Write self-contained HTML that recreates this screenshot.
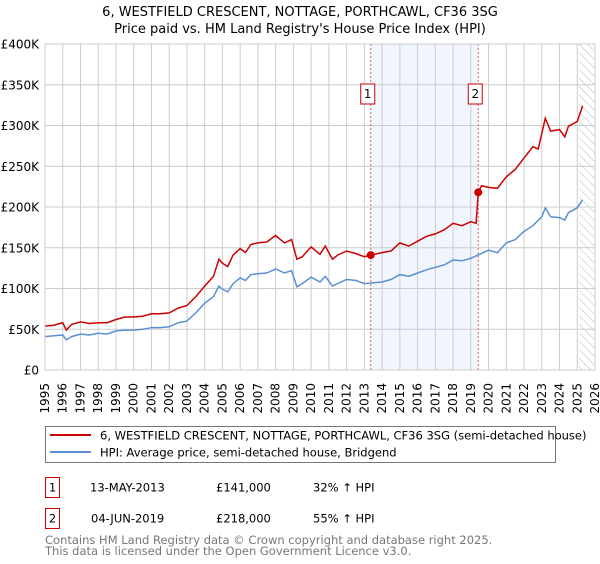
<!DOCTYPE html>
<html><head><meta charset="utf-8"><style>
body{margin:0;background:#fff;width:600px;height:560px;overflow:hidden;font-family:"DejaVu Sans","Liberation Sans",sans-serif;}
svg text{font-family:"DejaVu Sans","Liberation Sans",sans-serif;}
</style></head><body>
<svg id="chart" width="600" height="560" viewBox="0 0 600 560" xmlns="http://www.w3.org/2000/svg">
<defs><pattern id="hatch" patternUnits="userSpaceOnUse" width="6" height="6" patternTransform="rotate(-45)"><line x1="0" y1="0" x2="0" y2="6" stroke="#bbb" stroke-width="1"/></pattern></defs>
<text x="300" y="16" text-anchor="middle" font-size="13">6, WESTFIELD CRESCENT, NOTTAGE, PORTHCAWL, CF36 3SG</text>
<text x="300" y="33" text-anchor="middle" font-size="13">Price paid vs. HM Land Registry's House Price Index (HPI)</text>
<g id="plot"></g>
<g>
<rect x="45.5" y="426.5" width="510" height="36" fill="#fff" stroke="#777"/>
<line x1="50" y1="435" x2="91" y2="435" stroke="#cc0000" stroke-width="2"/>
<text x="100" y="439.5" font-size="11.5">6, WESTFIELD CRESCENT, NOTTAGE, PORTHCAWL, CF36 3SG (semi-detached house)</text>
<line x1="50" y1="452" x2="91" y2="452" stroke="#5b8fd4" stroke-width="2"/>
<text x="100" y="456.5" font-size="11.5">HPI: Average price, semi-detached house, Bridgend</text>
</g>
<g font-size="11.5">
<rect x="45.5" y="477.5" width="14" height="20" fill="#fff" stroke="#cc0000"/>
<text x="52.5" y="491.5" text-anchor="middle">1</text>
<text x="90" y="491.5">13-MAY-2013</text><text x="216" y="491.5">£141,000</text><text x="313" y="491.5">32% ↑ HPI</text>
<rect x="45.5" y="508.5" width="14" height="20" fill="#fff" stroke="#cc0000"/>
<text x="52.5" y="522.5" text-anchor="middle">2</text>
<text x="91" y="522.5">04-JUN-2019</text><text x="216" y="522.5">£218,000</text><text x="313" y="522.5">55% ↑ HPI</text>
</g>
<text x="45" y="544" font-size="11.5" fill="#777">Contains HM Land Registry data © Crown copyright and database right 2025.</text>
<text x="45" y="555" font-size="11.5" fill="#777">This data is licensed under the Open Government Licence v3.0.</text>
</svg>
<script>
const redYears=[1995,1995.5,1996,1996.2,1996.5,1997,1997.5,1998,1998.5,1999,1999.5,2000,2000.5,2001,2001.5,2002,2002.5,2003,2003.5,2004,2004.5,2004.8,2005,2005.3,2005.6,2006,2006.3,2006.6,2007,2007.5,2008,2008.5,2008.9,2009.2,2009.5,2010,2010.5,2010.8,2011.2,2011.5,2012,2012.5,2013,2013.36,2014,2014.5,2015,2015.5,2016,2016.5,2017,2017.5,2018,2018.5,2019,2019.3,2019.42,2019.6,2020,2020.5,2021,2021.5,2022,2022.5,2022.8,2023.2,2023.5,2024,2024.3,2024.5,2025,2025.3];
const redValues=[54,55,58,49,56,59,57,58,58,62,65,65,66,69,69,70,76,79,90,103,115,136,131,127,141,149,144,154,156,157,165,156,160,136,139,151,142,152,136,141,146,143,139,141,144,146,156,152,158,164,167,172,180,177,182,180,218,226,224,223,237,246,260,274,271,309,293,295,286,299,305,324];
const hpiYears=[1995,1995.5,1996,1996.2,1996.5,1997,1997.5,1998,1998.5,1999,1999.5,2000,2000.5,2001,2001.5,2002,2002.5,2003,2003.5,2004,2004.5,2004.8,2005,2005.3,2005.6,2006,2006.3,2006.6,2007,2007.5,2008,2008.5,2008.9,2009.2,2009.5,2010,2010.5,2010.8,2011.2,2011.5,2012,2012.5,2013,2013.5,2014,2014.5,2015,2015.5,2016,2016.5,2017,2017.5,2018,2018.5,2019,2019.5,2020,2020.5,2021,2021.5,2022,2022.5,2023,2023.2,2023.5,2024,2024.3,2024.5,2025,2025.3];
const hpiValues=[41,42,43,37,41,44,43,45,44,48,49,49,50,52,52,53,58,60,70,82,90,103,99,96,106,113,110,117,118,119,124,119,122,102,106,114,108,115,103,106,111,110,106,107,108,111,117,115,119,123,126,129,135,134,137,142,147,144,156,160,170,177,188,199,188,187,184,193,199,209];
const saleYears=[2013.36,2019.42];
const saleValues=[141,218];
const saleLabels=["1","2"];
const yTicks=[0,50,100,150,200,250,300,350,400];
const yTickLabels=["£0","£50K","£100K","£150K","£200K","£250K","£300K","£350K","£400K"];
const xTicks=[1995,1996,1997,1998,1999,2000,2001,2002,2003,2004,2005,2006,2007,2008,2009,2010,2011,2012,2013,2014,2015,2016,2017,2018,2019,2020,2021,2022,2023,2024,2025,2026];

const L=45,R=595,T=44,B=370;
const x=v=>L+(v-1995)/(2026-1995)*(R-L);
const y=v=>B-v/400*(B-T);
const g=document.getElementById('plot');
const NS='http://www.w3.org/2000/svg';
function mk(tag,attrs,parent){const e=document.createElementNS(NS,tag);for(const k in attrs)e.setAttribute(k,attrs[k]);(parent||g).appendChild(e);return e;}
let e=mk('rect',{x:x(saleYears[0]),y:T,width:x(saleYears[1])-x(saleYears[0]),height:B-T,fill:'#eef3fc',opacity:0.8});


e=mk('rect',{x:x(2025.1),y:T,width:R-x(2025.1),height:B-T,fill:'url(#hatch)'});


xTicks.forEach(t=>{
  const l=mk('line',{x1:x(t),x2:x(t),y1:T,y2:B,stroke:'#ccc','stroke-width':1});
  
  
  const tx=mk('text',{x:0,y:0,'font-size':12,'text-anchor':'end',transform:`translate(${x(t)+4},${B+13}) rotate(-90)`});
  tx.textContent=t;
  
  
});
yTicks.forEach((t,i)=>{
  const l=mk('line',{x1:L,x2:R,y1:y(t),y2:y(t),stroke:'#ccc','stroke-width':1});
  
  
  const tx=mk('text',{x:L-6,y:y(t)+4.5,'font-size':12,'text-anchor':'end'});
  tx.textContent=yTickLabels[i];
  
  
});
saleYears.forEach((s,i)=>{
  const l=mk('line',{x1:x(s),x2:x(s),y1:T,y2:B,stroke:'#e06060','stroke-width':1,'stroke-dasharray':'2,2'});
  
  
  const r=mk('rect',{x:x(s)-10,y:84,width:14,height:20,fill:'#fff',stroke:'#cc0000'});
  
  
  const tx=mk('text',{x:x(s)-3,y:98,'font-size':12,'text-anchor':'middle'});
  tx.textContent=saleLabels[i];
  
  
});
function path(xs,vs){return xs.map((v,i)=>(i?'L':'M')+x(v).toFixed(1)+','+y(vs[i]).toFixed(1)).join('');}
e=mk('path',{d:path(hpiYears,hpiValues),fill:'none',stroke:'#5b8fd4','stroke-width':1.5});


e=mk('path',{d:path(redYears,redValues),fill:'none',stroke:'#cc0000','stroke-width':1.5});


saleYears.forEach((s,i)=>{
  const c=mk('circle',{cx:x(s),cy:y(saleValues[i]),r:4,fill:'#cc0000'});
  
  
});
e=mk('rect',{x:L,y:T,width:R-L,height:B-T,fill:'none',stroke:'#ccc'});


</script>
</body></html>
